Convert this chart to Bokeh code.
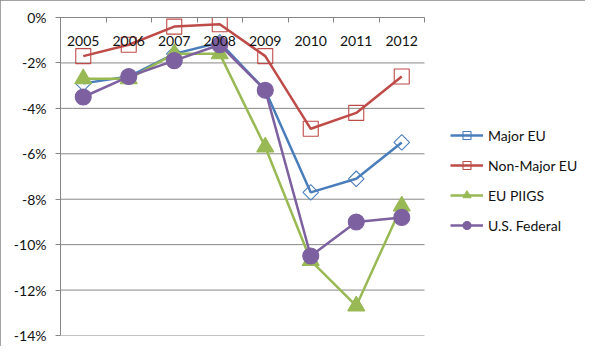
import math
from bokeh.plotting import figure
from bokeh.models import (Range1d, FixedTicker, LinearAxis, Legend, LegendItem,
                          PrintfTickFormatter)
from bokeh.embed import file_html
from bokeh.resources import INLINE

years = ["2005", "2006", "2007", "2008", "2009", "2010", "2011", "2012"]
major_eu = [-2.9, -2.6, -1.6, -1.1, -3.2, -7.7, -7.1, -5.5]
non_major_eu = [-1.7, -1.2, -0.4, -0.3, -1.7, -4.9, -4.2, -2.6]
eu_piigs = [-2.7, -2.7, -1.6, -1.6, -5.7, -10.7, -12.7, -8.3]
us_federal = [-3.5, -2.6, -1.9, -1.2, -3.2, -10.5, -9.0, -8.8]
y_ticks = [-14, -12, -10, -8, -6, -4, -2, 0]

FONT = "Lato"
GRAY = "#868686"
TXT = "#111111"

W, H = 585, 346
LEFT, TOP, BOTTOM, RIGHT = 60, 17, 11, 2
AXIS_W = 364                      # width of the category area
FRAME_W = W - LEFT - RIGHT        # frame also holds the legend area
n = len(years)
xs = [i + 1 for i in range(n)]
x_end = 0.5 + n * FRAME_W / AXIS_W

p = figure(width=W, height=H, output_backend="svg", toolbar_location=None,
           x_range=Range1d(0.5, x_end), y_range=Range1d(-14, 0),
           x_axis_location=None, min_border_left=LEFT, min_border_top=TOP,
           min_border_bottom=BOTTOM, min_border_right=RIGHT)
p.outline_line_color = None
p.background_fill_color = "white"
p.border_fill_color = "white"
p.styles = {"outline": "1px solid " + GRAY, "outline-offset": "-1px"}

yt = FixedTicker(ticks=y_ticks)
p.yaxis.ticker = yt
p.yaxis.formatter = PrintfTickFormatter(format="%d%%")
p.yaxis.axis_line_color = GRAY
p.yaxis.major_tick_line_color = GRAY
p.yaxis.major_tick_out = 5
p.yaxis.major_tick_in = 0
p.yaxis.minor_tick_line_color = None
p.yaxis.major_label_text_font = FONT
p.yaxis.major_label_text_font_size = "14px"
p.yaxis.major_label_text_color = TXT
p.yaxis.major_label_standoff = 9

p.grid.visible = False
# horizontal gridlines limited to the category area
p.segment(x0=[0.5] * len(y_ticks), x1=[n + 0.5] * len(y_ticks), y0=y_ticks,
          y1=y_ticks, line_color=GRAY, line_width=1)

top = LinearAxis(
    ticker=FixedTicker(ticks=xs, minor_ticks=[i + 0.5 for i in range(n + 1)]),
    major_label_overrides={x: y for x, y in zip(xs, years)},
    major_label_text_font=FONT, major_label_text_font_size="14px",
    major_label_text_color=TXT, major_label_standoff=-28,
    major_tick_in=0, major_tick_out=0, major_tick_line_color=None,
    minor_tick_in=5, minor_tick_out=0, minor_tick_line_color=GRAY,
    axis_line_color=GRAY, bounds=(0.5, n + 0.5))
p.add_layout(top, "above")

series = [
    ("Major EU", major_eu, "#4A7EBB", "square", None, 11, math.pi / 4),
    ("Non-Major EU", non_major_eu, "#BE4B48", "square", None, 15, 0),
    ("EU PIIGS", eu_piigs, "#98B954", "triangle", "#98B954", 17, 0),
    ("U.S. Federal", us_federal, "#7D60A0", "circle", "#7D60A0", 16, 0),
]
items = []
for name, vals, color, marker, fill, size, ang in series:
    ln = p.line(xs, vals, line_color=color, line_width=2.5)
    sc = p.scatter(xs, vals, marker=marker, size=size, angle=ang,
                   line_color=color, fill_color=fill, line_width=1.1)
    items.append(LegendItem(label=name, renderers=[ln, sc]))

legend = Legend(items=items, location=(390, 100), border_line_color=None,
                background_fill_alpha=0, label_text_font=FONT,
                label_text_font_size="14px", label_text_color=TXT,
                glyph_width=33, glyph_height=20, spacing=10, padding=0,
                margin=0, label_standoff=5)
p.add_layout(legend, "center")

open("out.html", "w").write(file_html(p, INLINE))
